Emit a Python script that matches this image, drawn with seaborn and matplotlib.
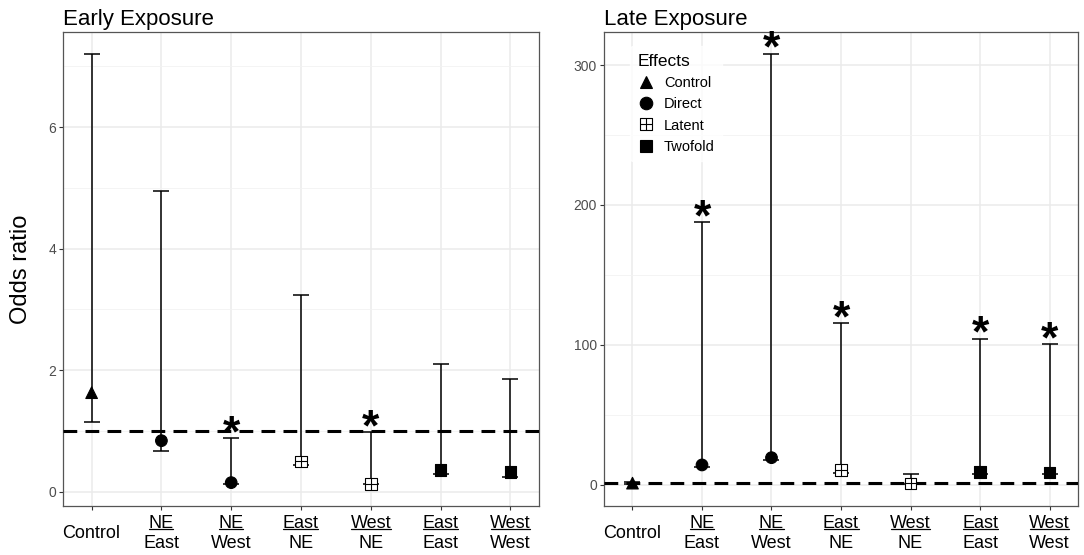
import matplotlib
matplotlib.use("Agg")
import matplotlib.pyplot as plt
import seaborn as sns
import pandas as pd
from matplotlib.path import Path
from matplotlib.lines import Line2D
from matplotlib.transforms import IdentityTransform

# Values
origin = ["", "NE", "NE", "East", "West", "East", "West"]
dest = ["Control", "East", "West", "NE", "NE", "East", "West"]
effect = ["Control", "Direct", "Direct", "Latent", "Latent", "Twofold", "Twofold"]

early_or = [1.63, 0.84, 0.15, 0.50, 0.13, 0.36, 0.32]
early_lo = [1.15, 0.67, 0.12, 0.44, 0.12, 0.29, 0.25]
early_hi = [7.21, 4.95, 0.88, 3.23, 0.98, 2.10, 1.85]
early_sig = [False, False, True, False, True, False, False]

late_or = [1.0, 14.0, 19.2, 10.2, 0.8, 8.8, 8.5]
late_lo = [0.1, 12.5, 17.5, 8.5, 0.05, 7.5, 7.2]
late_hi = [2.0, 187.8, 308.2, 115.4, 7.8, 104.2, 100.4]
late_sig = [False, True, True, True, False, True, True]

effect_order = ["Control", "Direct", "Latent", "Twofold"]

sns.set_theme(style="whitegrid")
plt.rcParams["font.family"] = ["Liberation Sans", "DejaVu Sans"]
plt.rcParams["text.color"] = "black"

# square with a cross, like ggplot shape 12
latent_marker = Path(
    [(-1, -1), (1, -1), (1, 1), (-1, 1), (-1, -1), (0, -1), (0, 1), (-1, 0), (1, 0)],
    [Path.MOVETO, Path.LINETO, Path.LINETO, Path.LINETO, Path.CLOSEPOLY,
     Path.MOVETO, Path.LINETO, Path.MOVETO, Path.LINETO],
)
markers = {"Control": "^", "Direct": "o", "Latent": latent_marker, "Twofold": "s"}

W, H = 1084, 555
fig = plt.figure(figsize=(W / 100, H / 100), dpi=100)
ax1 = fig.add_axes([63 / W, 1 - 506 / H, 476 / W, 474 / H])
ax2 = fig.add_axes([604 / W, 1 - 506 / H, 474 / W, 474 / H])

top_texts = []


def panel(ax, title, odds, lo, hi, sig, yticks):
    df = pd.DataFrame({"x": range(len(odds)), "odds": odds, "lo": lo, "hi": hi,
                       "effect": effect})
    ax.errorbar(df["x"], df["odds"], yerr=[df["odds"] - df["lo"], df["hi"] - df["odds"]],
                fmt="none", ecolor="black", elinewidth=1.1, capsize=5.5, capthick=1.1,
                zorder=2)
    ax.axhline(1, color="black", lw=2.2, ls=(0, (4.5, 2.7)), zorder=3)
    sns.scatterplot(data=df, x="x", y="odds", style="effect", markers=markers,
                    style_order=effect_order, color="black", edgecolor="black",
                    linewidth=0.8, s=70, legend=False, ax=ax, zorder=4)
    pts = ax.collections[-1]
    pts.set_facecolor(["white" if e == "Latent" else "black" for e in effect])
    pts.set_edgecolor("black")

    for i in range(len(odds)):
        if sig[i]:
            ax.annotate("*", (i, hi[i]), xytext=(0, -8), textcoords="offset pixels",
                        ha="center", va="baseline", fontsize=32, fontweight="bold",
                        color="black", zorder=5)

    ax.set_yticks(yticks)
    ax.set_yticklabels([str(t) for t in yticks])
    step = yticks[1] - yticks[0]
    ax.set_yticks([t + step / 2 for t in yticks], minor=True)
    ax.set_xticks(range(len(odds)))
    ax.set_xticklabels([])
    ax.set_xlabel("")
    ax.set_ylabel("")
    span = max(hi) - min(lo)
    ax.set_ylim(min(lo) - 0.05 * span, max(hi) + 0.05 * span)
    ax.set_xlim(-0.41, len(odds) - 1 + 0.41)

    ax.grid(which="major", color="#EBEBEB", lw=1.1)
    ax.grid(which="minor", axis="y", color="#F2F2F2", lw=0.6)
    ax.set_axisbelow(True)
    for sp in ax.spines.values():
        sp.set_color("#555555")
        sp.set_linewidth(0.9)
    ax.tick_params(which="major", length=3, width=0.8, color="#333333",
                   labelsize=10, labelcolor="#4D4D4D", pad=2, left=True, bottom=True)
    ax.tick_params(which="minor", length=0)
    ax.set_title(title, loc="left", fontsize=16, pad=5, color="black")

    for i in range(len(odds)):
        if origin[i] == "":
            ax.annotate(dest[i], (i, 0), xycoords=("data", "axes fraction"),
                        xytext=(0, -27), textcoords="offset pixels",
                        ha="center", va="center", fontsize=13, color="black")
        else:
            t = ax.annotate(origin[i], (i, 0), xycoords=("data", "axes fraction"),
                            xytext=(0, -17), textcoords="offset pixels",
                            ha="center", va="center", fontsize=13, color="black")
            top_texts.append(t)
            ax.annotate(dest[i], (i, 0), xycoords=("data", "axes fraction"),
                        xytext=(0, -38), textcoords="offset pixels",
                        ha="center", va="center", fontsize=13, color="black")


panel(ax1, "Early Exposure", early_or, early_lo, early_hi, early_sig, [0, 2, 4, 6])
panel(ax2, "Late Exposure", late_or, late_lo, late_hi, late_sig, [0, 100, 200, 300])

ax1.set_ylabel("Odds ratio", fontsize=17, labelpad=12, color="black")

handles = []
for e in effect_order:
    handles.append(Line2D([], [], marker=markers[e], ls="none", color="black",
                          markerfacecolor="white" if e == "Latent" else "black",
                          markeredgecolor="black", markeredgewidth=0.8, markersize=9))
leg = ax2.legend(handles, effect_order, title="Effects", loc="upper left",
                 bbox_to_anchor=(0.04, 0.985), frameon=True, fontsize=10.5,
                 title_fontsize=12.5, labelspacing=0.5, handletextpad=0.6,
                 borderpad=0.5, handlelength=1.2)
leg.get_frame().set_facecolor("white")
leg.get_frame().set_edgecolor("white")
leg._legend_box.align = "left"
for txt in leg.get_texts():
    txt.set_color("black")
leg.get_title().set_color("black")

# underline the first line of each two-line tick label
fig.canvas.draw()
renderer = fig.canvas.get_renderer()
for t in top_texts:
    bb = t.get_window_extent(renderer)
    y = bb.y0 + 3
    fig.add_artist(Line2D([bb.x0 + 0.5, bb.x1 - 0.5], [y, y], transform=IdentityTransform(),
                          color="black", lw=0.9))

fig.savefig("out.png", dpi=100)
